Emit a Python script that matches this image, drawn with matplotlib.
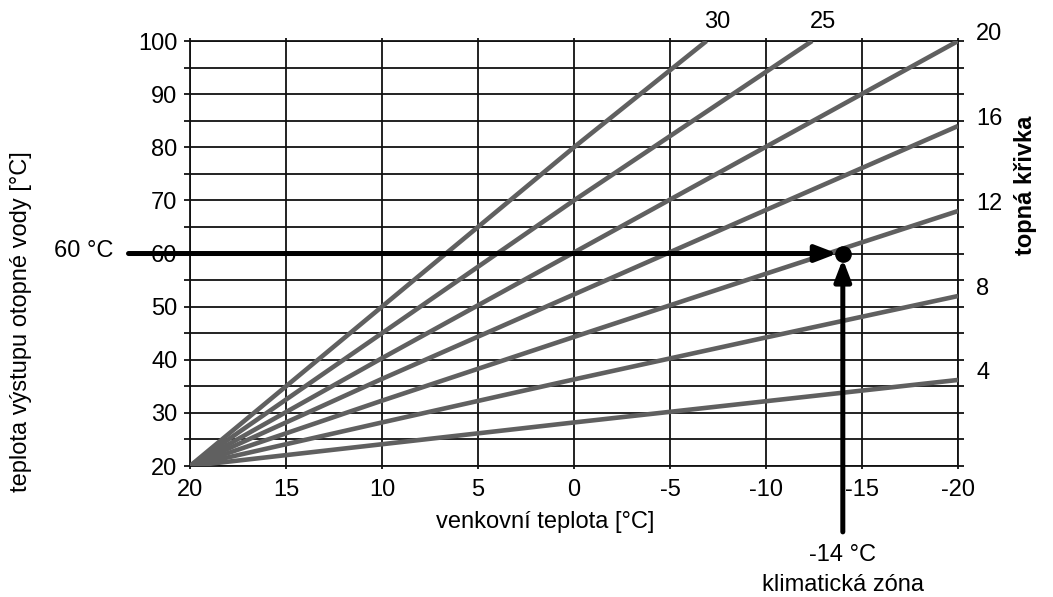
import numpy as np
import matplotlib
matplotlib.use('Agg')
import matplotlib.pyplot as plt

plt.rcParams['font.family'] = ['Liberation Sans', 'DejaVu Sans']

# heating curves: outdoor temp -> flow temp
curve_names = ['4', '8', '12', '16', '20', '25', '30']
curve_x = [
    [20, 10, 0, -10, -20],
    [20, 10, 0, -10, -20],
    [20, 10, 0, -10, -20],
    [20, 10, 0, -10, -20],
    [20, 10, 0, -10, -20],
    [20, 10, 0, -12.4],
    [20, 10, 0, -6.9],
]
curve_y = [
    [20, 24.1, 28.2, 32.2, 36.2],
    [20, 28.2, 36.3, 44.2, 52.0],
    [20, 32.3, 44.3, 56.2, 68.0],
    [20, 36.4, 52.3, 68.2, 84.0],
    [20, 40.3, 60.2, 80.1, 100.0],
    [20, 45.0, 70.0, 100.0],
    [20, 50.0, 80.0, 100.0],
]

x_ticks = [20, 15, 10, 5, 0, -5, -10, -15, -20]
y_ticks = [20, 30, 40, 50, 60, 70, 80, 90, 100]

design_x = -14   # climate zone
design_y = 60    # required flow temperature

FS = 17

fig = plt.figure(figsize=(10.53, 5.97), dpi=100)
ax = fig.add_axes([0.1804, 0.2194, 0.7294, 0.7119])

for xs, ys in zip(curve_x, curve_y):
    ax.plot(xs, ys, color='#606060', lw=3.3, solid_capstyle='butt', zorder=3)

ax.set_xlim(20, -20)
ax.set_ylim(20, 100)
ax.set_xticks(np.arange(20, -21, -5))
ax.set_xticklabels([str(v) for v in x_ticks])
ax.set_yticks(np.arange(20, 101, 5))
ax.set_yticklabels([str(v) if v in y_ticks else '' for v in range(20, 101, 5)])
ax.grid(True, color='#111111', lw=1.3)
for s in ax.spines.values():
    s.set_color('#111111')
    s.set_linewidth(1.3)
ax.tick_params(axis='both', direction='out', color='#111111', width=1.3,
               labelsize=FS, top=True, right=True)
ax.tick_params(axis='y', length=4, pad=5)
ax.tick_params(axis='x', length=2, pad=7)

ax.set_ylabel('teplota výstupu otopné vody [°C]', fontsize=FS)
ax.yaxis.set_label_coords(-0.206, 0.339)
ax.set_xlabel('venkovní teplota [°C]', fontsize=FS)
ax.xaxis.set_label_coords(0.462, -0.105)

# curve labels
for name, xs, ys in zip(curve_names, curve_x, curve_y):
    if ys[-1] >= 100 and xs[-1] > -20:
        ax.annotate(name, (xs[-1], ys[-1]), xytext=(8, 14), textcoords='offset points',
                    ha='center', va='center', fontsize=FS, annotation_clip=False)
    else:
        ax.annotate(name, (xs[-1], ys[-1]), xytext=(13, 5), textcoords='offset points',
                    ha='left', va='center', fontsize=FS, annotation_clip=False)

fig.text(0.974, 0.690, 'topná křivka', rotation=90, fontsize=FS, fontweight='bold',
         ha='center', va='center')

# design point arrows
ax.annotate('', xy=(design_x, design_y), xytext=(23.2, design_y),
            arrowprops=dict(arrowstyle='-|>,head_length=1.3,head_width=0.5', lw=3.6,
                            color='black', shrinkA=0, shrinkB=4),
            annotation_clip=False, zorder=5)
ax.annotate('', xy=(design_x, design_y), xytext=(design_x, 7.6),
            arrowprops=dict(arrowstyle='-|>,head_length=1.3,head_width=0.5', lw=3.6,
                            color='black', shrinkA=0, shrinkB=4),
            annotation_clip=False, zorder=5)
ax.plot([design_x], [design_y], 'o', color='black', ms=11, zorder=6, clip_on=False)

ax.text(24.0, design_y + 0.5, '60 °C', ha='right', va='center', fontsize=FS, clip_on=False)
ax.text(design_x, 3.2, '-14 °C', ha='center', va='center', fontsize=FS, clip_on=False)
ax.text(design_x, -2.4, 'klimatická zóna', ha='center', va='center', fontsize=FS,
        clip_on=False)

fig.savefig('out.png', dpi=100)
